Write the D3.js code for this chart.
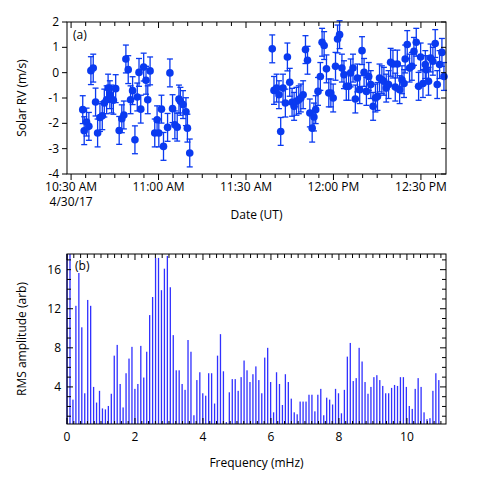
<!DOCTYPE html><html><head><meta charset="utf-8">
<script src="https://cdn.jsdelivr.net/npm/d3@7"></script>
<style>body{margin:0;background:#fff}text{font-family:"Open Sans",sans-serif}</style></head><body>
<svg id="c" width="491" height="482"></svg>
<script>
// Panel (a): minutes after 10:28.6 AM, RV (m/s)
const rvTime=[5.4,5.9,6.7,7.5,8.2,9.0,9.8,10.5,11.3,12.1,12.8,13.6,14.1,14.7,15.3,15.9,16.7,17.9,18.8,19.5,20.2,21.0,21.8,22.5,23.3,24.1,24.7,25.3,26.3,27.1,27.7,28.5,30.1,30.9,31.5,32.4,33.1,34.5,35.3,36.2,37.0,37.8,38.4,38.9,39.8,40.8,41.3,42.1,
70.4,71.0,71.9,72.7,73.3,74.1,74.9,75.6,76.4,77.2,77.9,78.7,79.5,80.2,81.0,81.8,82.5,83.3,84.1,84.7,85.3,86.1,86.9,87.5,88.2,89.0,89.8,90.5,91.3,92.1,92.8,93.5,94.3,95.0,95.8,96.6,97.3,98.1,98.9,99.6,100.4,101.2,101.9,102.7,103.5,104.2,105.0,105.8,106.5,107.2,108.0,108.7,109.5,110.3,111.0,111.8,112.6,113.3,114.1,114.9,115.6,116.0,116.7,117.5,118.3,119.0,119.8,120.6,121.3,122.1,122.9,123.2,124.0,124.7,125.5,126.3,127.0,127.8,128.6,129.3];
const rvValue=[-1.46,-2.29,-1.95,-2.12,0.08,0.18,-1.16,-2.38,-1.77,-1.70,-1.20,-1.07,-0.61,-0.87,-1.04,-1.09,-0.63,-2.28,-1.82,-1.67,0.54,0.12,-1.07,-0.71,-2.65,-0.96,0.01,-1.44,0.22,-0.30,-1.07,0.07,-2.38,-1.86,-2.38,-1.44,-2.91,-2.16,-0.01,-1.42,-2.06,-2.15,-1.04,-1.13,-1.26,-1.54,-2.19,-3.17,
0.94,-0.70,-0.61,-0.87,-2.32,-0.61,-1.20,0.62,-0.38,-1.17,-1.33,-1.13,-1.07,-1.00,-0.87,0.91,0.49,-1.59,-2.19,-1.75,-1.46,-0.74,-0.15,1.20,1.07,0.15,-0.80,-0.80,-1.00,0.25,1.33,1.50,0.18,-0.08,-0.54,-0.54,-0.01,0.18,-1.04,-0.21,-0.67,0.87,0.01,-0.74,-0.15,-0.47,-1.33,-1.00,-0.94,-0.21,-0.28,-0.34,-0.61,-0.47,0.41,0.34,-0.57,0.34,-0.67,-0.28,-0.43,0.54,1.11,0.18,0.25,0.84,1.20,-0.54,0.62,-0.43,0.32,0.12,-0.34,0.58,0.45,1.15,-0.47,0.32,0.80,-0.15];
const rvError=0.55;
const timeTicks=["10:30 AM","11:00 AM","11:30 AM","12:00 PM","12:30 PM"];
const timeTickMin=[1.4,31.4,61.4,91.4,121.4];
const rvTicks=[2,1,0,-1,-2,-3,-4];
// Panel (b)
const freqStep=0.0868;
const amp=[17.6,17.6,2.7,12.3,15.7,10.1,3.35,12.9,12.3,4.0,2.4,3.6,1.8,1.7,2.05,3.3,7.2,8.3,4.3,1.9,5.4,6.9,8.1,3.8,4.3,8.2,4.96,7.6,11.35,13.2,17.2,17.2,13.9,16.1,17.4,14.2,9.3,5.7,5.7,4.3,3.7,8.8,7.6,1.1,4.7,5.5,3.35,3.1,5.4,5.4,2.3,7.2,9.4,5.6,0.4,3.45,4.8,4.8,3.6,5.0,6.7,5.7,4.5,5.3,6.1,
4.7,3.35,7.0,8.0,4.5,1.4,5.5,4.3,2.15,5.3,4.5,2.8,1.4,1.2,2.5,2.5,2.5,3.2,3.2,1.5,3.2,3.8,1.1,2.9,2.7,2.2,3.8,3.35,1.3,3.7,7.1,8.5,4.6,4.9,8.0,6.6,4.5,3.3,4.0,5.0,5.2,4.7,4.1,3.35,3.35,3.9,4.2,4.1,5.0,5.0,4.0,2.05,1.75,3.8,4.9,4.0,1.4,0.7,0.8,3.6,5.4,4.7];
const freqTicks=[0,2,4,6,8,10];
const ampTicks=[4,8,12,16];

const svg=d3.select("#c");
const L=67,R=446;
// ---- panel a
const xa=d3.scaleLinear().domain([0,130]).range([L,R]);
const ya=d3.scaleLinear().domain([-4,2]).range([174,22]);
const ga=svg.append("g");
const blue="#0a3af0";
const ea=ga.append("g").attr("stroke",blue).attr("stroke-width",1.3);
rvTime.forEach((t,i)=>{const x=xa(t),y1=ya(rvValue[i]-rvError),y2=ya(rvValue[i]+rvError);
 ea.append("line").attr("x1",x).attr("x2",x).attr("y1",y1).attr("y2",y2);
 ea.append("line").attr("x1",x-3).attr("x2",x+3).attr("y1",y1).attr("y2",y1);
 ea.append("line").attr("x1",x-3).attr("x2",x+3).attr("y1",y2).attr("y2",y2);});
ga.selectAll("circle").data(rvTime).join("circle").attr("cx",d=>xa(d)).attr("cy",(d,i)=>ya(rvValue[i])).attr("r",3.8).attr("fill",blue);
function frame(g,x0,y0,x1,y1){g.append("rect").attr("x",x0).attr("y",y0).attr("width",x1-x0).attr("height",y1-y0).attr("fill","none").attr("stroke","#000").attr("stroke-width",1);}
frame(ga,L,22,R,174);
const tk=ga.append("g").attr("stroke","#000");
d3.range(0,26).forEach(k=>{const m=1.4+k*5;const x=xa(m);if(x>R)return;const big=k%6==0;
 tk.append("line").attr("x1",x).attr("x2",x).attr("y1",174).attr("y2",174+(big?6:4));
 tk.append("line").attr("x1",x).attr("x2",x).attr("y1",22).attr("y2",22+(big?6:4));});
rvTicks.forEach(v=>{const y=ya(v);
 tk.append("line").attr("x1",L-5).attr("x2",L).attr("y1",y).attr("y2",y);
 tk.append("line").attr("x1",R-5).attr("x2",R).attr("y1",y).attr("y2",y);
 ga.append("text").attr("x",L-8).attr("y",y+4).attr("text-anchor","end").attr("font-size",12).text(v);});
timeTicks.forEach((s,i)=>ga.append("text").attr("x",xa(timeTickMin[i])).attr("y",191).attr("text-anchor","middle").attr("font-size",12).text(s));
ga.append("text").attr("x",xa(timeTickMin[0])).attr("y",206).attr("text-anchor","middle").attr("font-size",12).text("4/30/17");
ga.append("text").attr("x",(L+R)/2).attr("y",219).attr("text-anchor","middle").attr("font-size",12).text("Date (UT)");
ga.append("text").attr("transform",`translate(26,${(22+174)/2}) rotate(-90)`).attr("text-anchor","middle").attr("font-size",12).text("Solar RV (m/s)");
ga.append("text").attr("x",L+6).attr("y",39).attr("font-size",12).text("(a)");
// ---- panel b
const xb=d3.scaleLinear().domain([0,11.15]).range([L,R]);
const yb=d3.scaleLinear().domain([0,17.5]).range([426,255]);
const gb=svg.append("g");
gb.append("g").selectAll("rect").data(amp).join("rect").attr("x",(d,i)=>xb(i*freqStep)-0.6).attr("width",1.3)
 .attr("y",d=>Math.max(yb(d),254)).attr("height",d=>424-Math.max(yb(d),254)).attr("fill","#3030ff");
frame(gb,L,254,R,424);
const tb=gb.append("g").attr("stroke","#000");
d3.range(0,56).forEach(k=>{const f=k*0.2;const x=xb(f);if(x>R)return;const big=k%10==0;
 tb.append("line").attr("x1",x).attr("x2",x).attr("y1",254).attr("y2",254+(big?6:4));
 tb.append("line").attr("x1",x).attr("x2",x).attr("y1",424).attr("y2",424-(big?6:3));});
d3.range(1,18).forEach(v=>{const y=yb(v);const big=v%4==0;
 tb.append("line").attr("x1",R-(big?6:4)).attr("x2",R).attr("y1",y).attr("y2",y);
 tb.append("line").attr("x1",L).attr("x2",L+(big?6:4)).attr("y1",y).attr("y2",y);});
ampTicks.forEach(v=>gb.append("text").attr("x",L-6).attr("y",yb(v)+4).attr("text-anchor","end").attr("font-size",12).text(v));
freqTicks.forEach(v=>gb.append("text").attr("x",xb(v)).attr("y",441).attr("text-anchor","middle").attr("font-size",12).text(v));
gb.append("text").attr("x",(L+R)/2).attr("y",467).attr("text-anchor","middle").attr("font-size",12).text("Frequency (mHz)");
gb.append("text").attr("transform",`translate(26,${(254+424)/2}) rotate(-90)`).attr("text-anchor","middle").attr("font-size",12).text("RMS amplitude (arb)");
gb.append("rect").attr("x",L+4).attr("y",258).attr("width",22).attr("height",15).attr("fill","#fff");
gb.append("text").attr("x",L+8).attr("y",270).attr("font-size",12).text("(b)");
</script></body></html>
